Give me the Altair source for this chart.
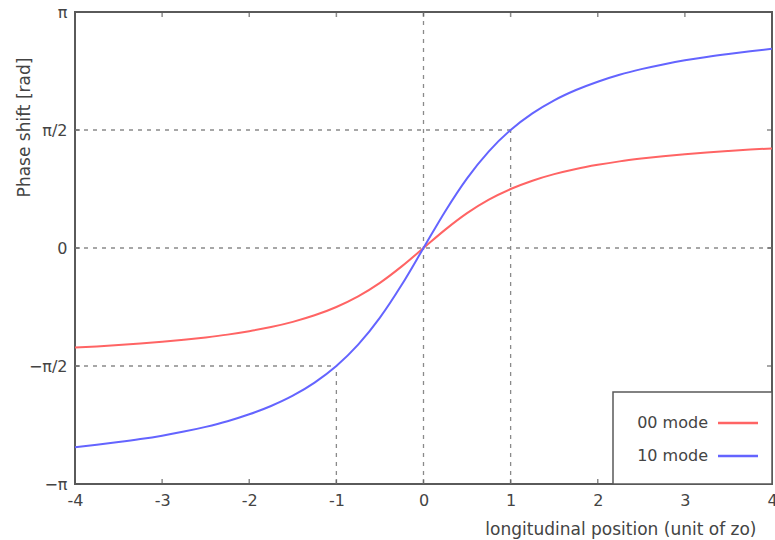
import math
import altair as alt
import pandas as pd

# positions along the beam axis (unit of z0)
z = [-4, -3.75, -3.5, -3.25, -3, -2.75, -2.5, -2.25, -2, -1.75, -1.5, -1.25, -1, -0.75, -0.5, -0.25,
     0, 0.25, 0.5, 0.75, 1, 1.25, 1.5, 1.75, 2, 2.25, 2.5, 2.75, 3, 3.25, 3.5, 3.75, 4]

# phase shift (rad)
mode00_pos = [0, 0.245, 0.464, 0.644, 0.785, 0.896, 0.983, 1.052, 1.107, 1.153, 1.190, 1.222,
              1.249, 1.272, 1.292, 1.310, 1.326]
mode10_pos = [0, 0.490, 0.927, 1.287, 1.571, 1.792, 1.966, 2.103, 2.214, 2.306, 2.381, 2.444,
              2.498, 2.544, 2.584, 2.620, 2.652]
mode00 = [-v for v in reversed(mode00_pos[1:])] + mode00_pos
mode10 = [-v for v in reversed(mode10_pos[1:])] + mode10_pos

series_names = ["00 mode", "10 mode"]
series_colors = ["#ff6464", "#6464ff"]

x_ticks = [-4, -3, -2, -1, 0, 1, 2, 3, 4]
PI = math.pi
y_ticks = [-PI, -PI / 2, 0, PI / 2, PI]
y_tick_labels = ["−π", "−π/2", "0", "π/2", "π"]

# dashed guide lines
guide_x = [0, -4, 1, -1, -4, -4]
guide_x2 = [0, 4, 1, -1, 1, -1]
guide_y = [-PI, 0, -PI, -PI, PI / 2, -PI / 2]
guide_y2 = [PI, 0, PI / 2, -PI / 2, PI / 2, -PI / 2]

W, H = 697, 472
FONT = "DejaVu Sans"
TXT = "#444444"
FRAME = "#5a5a5a"

rows = []
for name, vals in zip(series_names, [mode00, mode10]):
    for a, b in zip(z, vals):
        rows.append({"z": a, "phase": b, "mode": name})
df = pd.DataFrame(rows)

guides = pd.DataFrame({"x": guide_x, "x2": guide_x2, "y": guide_y, "y2": guide_y2})

y_label_expr = ("datum.value < -3 ? '−π' : datum.value < -1 ? '−π/2' : datum.value < 1 ? '0' : "
                "datum.value < 3 ? 'π/2' : 'π'")
x_label_expr = "datum.value < 0 ? '-' + abs(datum.value) : '' + datum.value"

xscale = alt.Scale(domain=[-4, 4], nice=False, zero=False)
yscale = alt.Scale(domain=[-PI, PI], nice=False, zero=False)

guide_layer = alt.Chart(guides).mark_rule(
    color="#8a8a8a", strokeDash=[4, 5], strokeWidth=1.3
).encode(
    x=alt.X("x:Q", scale=xscale),
    x2="x2:Q",
    y=alt.Y("y:Q", scale=yscale),
    y2="y2:Q",
)

lines = alt.Chart(df).mark_line(strokeWidth=2, interpolate="monotone").encode(
    x=alt.X(
        "z:Q",
        scale=xscale,
        axis=alt.Axis(
            values=x_ticks,
            labelExpr=x_label_expr,
            title="longitudinal position (unit of zo)",
            titleAnchor="end",
            titleAlign="right",
            titleX=681,
            titleY=50,
            titleBaseline="alphabetic",
            titleFontWeight="normal",
            titleFontSize=17,
            titleFont=FONT,
            titleColor=TXT,
            labelFont=FONT,
            labelFontSize=16,
            labelColor=TXT,
            labelPadding=8,
            labelFlush=False,
            labelOverlap=False,
            grid=False,
            domain=False,
            ticks=False,
        ),
    ),
    y=alt.Y(
        "phase:Q",
        scale=yscale,
        axis=alt.Axis(
            values=y_ticks,
            labelExpr=y_label_expr,
            title="Phase shift [rad]",
            titleAngle=270,
            titleX=-51,
            titleY=115,
            titleAlign="center",
            titleBaseline="middle",
            titleFontWeight="normal",
            titleFontSize=17,
            titleFont=FONT,
            titleColor=TXT,
            labelFont=FONT,
            labelFontSize=16,
            labelColor=TXT,
            labelPadding=8,
            labelFlush=False,
            labelOverlap=False,
            grid=False,
            domain=False,
            ticks=False,
        ),
    ),
    color=alt.Color(
        "mode:N",
        scale=alt.Scale(domain=series_names, range=series_colors),
        legend=None,
    ),
)

# inward tick marks on all four sides
xt = pd.DataFrame({"t": x_ticks})
yt = pd.DataFrame({"t": y_ticks})
tick_kw = dict(color=FRAME, size=5, thickness=1.5)
tick_bottom = alt.Chart(xt).mark_tick(orient="vertical", **tick_kw).encode(
    x=alt.X("t:Q", scale=xscale), y=alt.value(H - 2.5))
tick_top = alt.Chart(xt).mark_tick(orient="vertical", **tick_kw).encode(
    x=alt.X("t:Q", scale=xscale), y=alt.value(2.5))
tick_left = alt.Chart(yt).mark_tick(orient="horizontal", **tick_kw).encode(
    y=alt.Y("t:Q", scale=yscale), x=alt.value(2.5))
tick_right = alt.Chart(yt).mark_tick(orient="horizontal", **tick_kw).encode(
    y=alt.Y("t:Q", scale=yscale), x=alt.value(W - 2.5))

# legend box in the lower-right corner (label left, line sample right)
legend_df = pd.DataFrame({"mode": series_names, "color": series_colors})
legend_box = alt.Chart(legend_df.head(1)).mark_rect(
    fill="white", stroke=FRAME, strokeWidth=1.5
).encode(x=alt.value(538), x2=alt.value(W), y=alt.value(380), y2=alt.value(H))

legend_layers = [legend_box]
for i, (name, col) in enumerate(zip(series_names, series_colors)):
    row = legend_df.iloc[[i]]
    ypos = 411 + 33 * i
    legend_layers.append(
        alt.Chart(row).mark_text(
            align="right", baseline="middle", font=FONT, fontSize=16, color=TXT
        ).encode(text="mode:N", x=alt.value(633), y=alt.value(ypos))
    )
    legend_layers.append(
        alt.Chart(row).mark_rule(color=col, strokeWidth=2.5).encode(
            x=alt.value(643), x2=alt.value(683), y=alt.value(ypos)
        )
    )

chart = alt.layer(
    guide_layer, lines, tick_bottom, tick_top, tick_left, tick_right, *legend_layers
).properties(
    width=W,
    height=H,
    autosize=alt.AutoSizeParams(type="none"),
    padding={"left": 75, "top": 12, "right": 3, "bottom": 56},
    background="white",
).configure_view(
    stroke=FRAME, strokeWidth=2
)

chart.save("out.html", embed_options={"renderer": "svg", "actions": False})
